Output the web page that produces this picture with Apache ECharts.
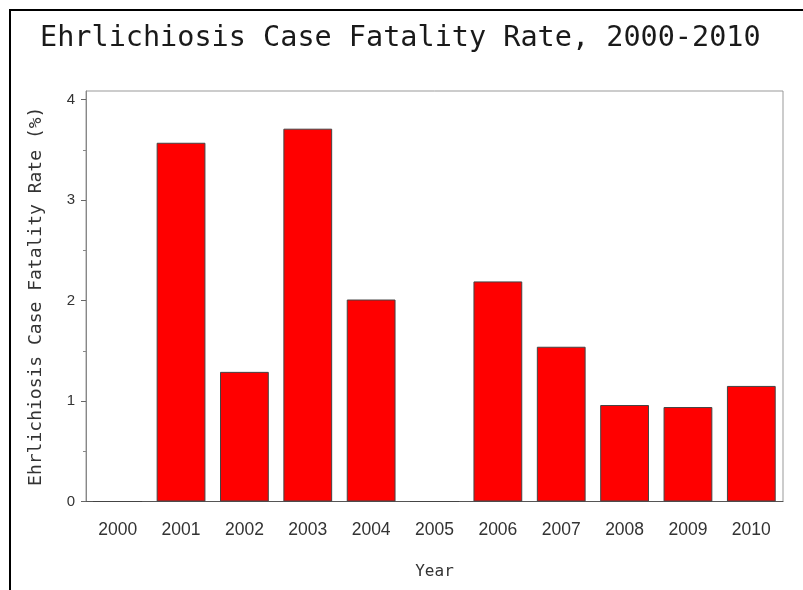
<!DOCTYPE html>
<html>
<head>
<meta charset="utf-8">
<script src="https://cdn.jsdelivr.net/npm/echarts@6/dist/echarts.min.js"></script>
<style>
html,body{margin:0;padding:0;background:#fff;}
#chart{width:803px;height:590px;}
</style>
</head>
<body>
<div id="chart"></div>
<script>
const years = ['2000','2001','2002','2003','2004','2005','2006','2007','2008','2009','2010'];
const fatalityRate = [0, 3.57, 1.29, 3.71, 2.01, 0, 2.19, 1.54, 0.96, 0.94, 1.15];
const yMajorTicks = [0, 1, 2, 3, 4];
const yMinorTicks = [0.5, 1.5, 2.5, 3.5];
const titleText = 'Ehrlichiosis Case Fatality Rate, 2000-2010';
const yAxisTitle = 'Ehrlichiosis Case Fatality Rate (%)';
const xAxisTitle = 'Year';

const chart = echarts.init(document.getElementById('chart'), null, {renderer: 'canvas'});
const mono = 'DejaVu Sans Mono';
chart.setOption({
  animation: false,
  backgroundColor: '#fff',
  title: {
    text: titleText,
    left: 35,
    top: 19,
    textStyle: {fontFamily: mono, fontSize: 28.5, fontWeight: 'normal', color: '#1a1a1a'}
  },
  graphic: [{
    type: 'rect',
    shape: {x: 10, y: 10, width: 900, height: 700},
    style: {fill: 'none', stroke: '#000', lineWidth: 2},
    silent: true
  }],
  grid: {
    left: 86, right: 20, top: 91, bottom: 88.5,
    show: true, borderColor: '#999', borderWidth: 1, backgroundColor: 'transparent'
  },
  xAxis: {
    type: 'category',
    data: years,
    name: xAxisTitle,
    nameLocation: 'middle',
    nameGap: 62,
    nameTextStyle: {fontFamily: mono, fontSize: 16, color: '#333'},
    axisLine: {lineStyle: {color: '#555', width: 1}},
    axisTick: {show: false},
    axisLabel: {margin: 20, fontFamily: 'Liberation Sans', fontSize: 17.5, color: '#333'},
    splitLine: {show: false}
  },
  yAxis: [{
    type: 'value',
    min: 0, max: 4.085,
    name: yAxisTitle,
    nameLocation: 'middle',
    nameGap: 41,
    nameRotate: 90,
    nameTextStyle: {fontFamily: mono, fontSize: 18, color: '#333'},
    axisLine: {show: true, lineStyle: {color: '#888'}},
    axisTick: {show: true, length: 5, customValues: yMajorTicks, lineStyle: {color: '#666'}},
    axisLabel: {customValues: yMajorTicks, margin: 11, fontFamily: 'Liberation Sans', fontSize: 15, color: '#333'},
    splitLine: {show: false}
  }, {
    type: 'value',
    min: 0, max: 4.085,
    position: 'left', offset: 0,
    axisLine: {show: false},
    axisTick: {show: true, length: 3, customValues: yMinorTicks, lineStyle: {color: '#888'}},
    axisLabel: {show: false},
    splitLine: {show: false}
  }],
  series: [{
    type: 'bar',
    data: fatalityRate,
    yAxisIndex: 0,
    barCategoryGap: '23%',
    itemStyle: {color: '#ff0000', borderColor: '#444', borderWidth: 1}
  }]
});
</script>
</body>
</html>
